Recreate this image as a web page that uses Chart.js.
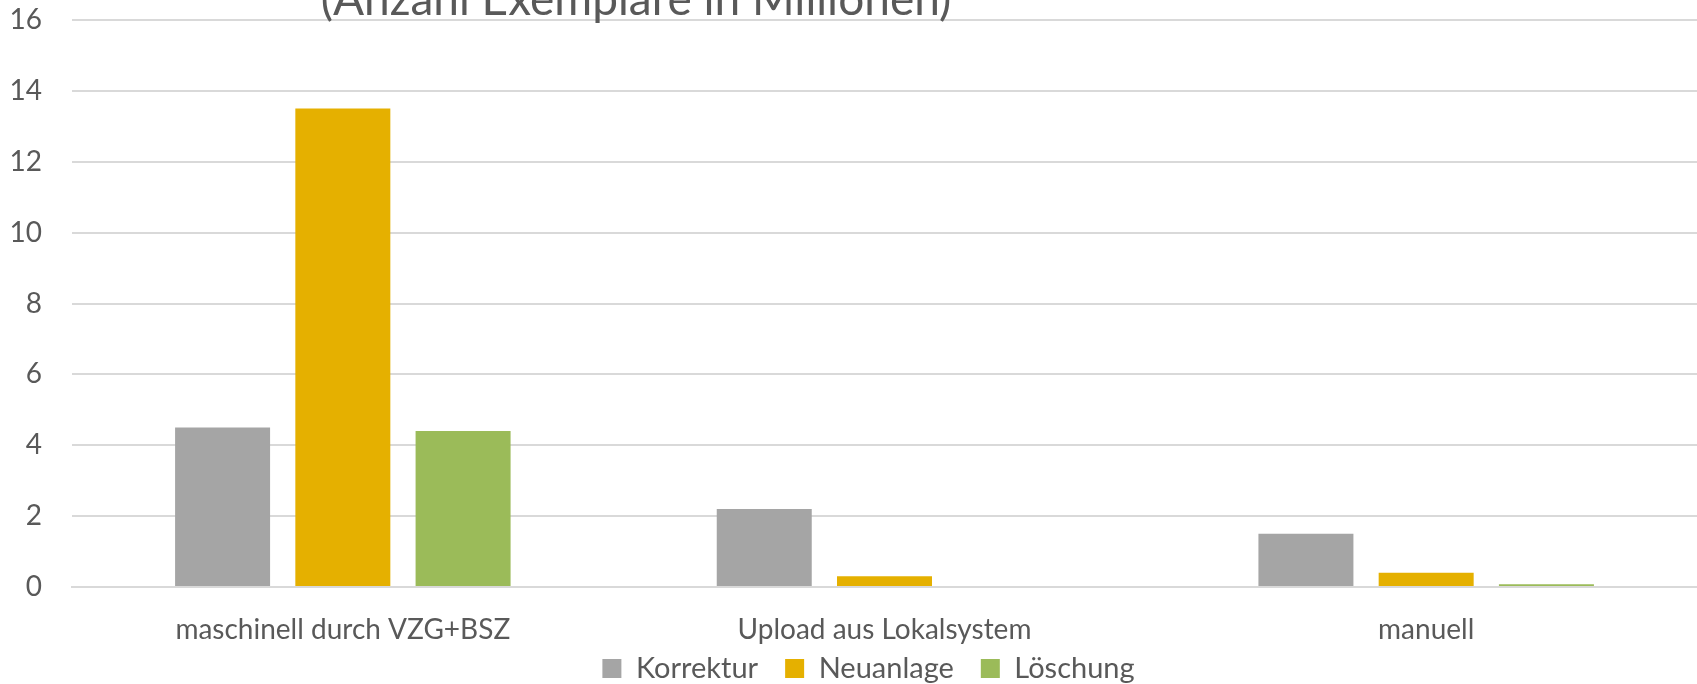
<!DOCTYPE html>
<html lang="de">
<head>
<meta charset="utf-8">
<script src="https://cdn.jsdelivr.net/npm/chart.js@4"></script>
<style>
  html, body { margin: 0; padding: 0; background: #fff; overflow: hidden; }
  #wrap { position: relative; width: 1697px; height: 684px; overflow: hidden; }
  #titel {
    position: absolute; left: 0; top: -30px; width: 1272px;
    text-align: center; font-family: Lato, sans-serif; font-size: 46px;
    line-height: 1.2; color: #595959; white-space: nowrap;
  }
</style>
</head>
<body>
<div id="wrap">
  <canvas id="chart" width="1697" height="684"></canvas>
  <div id="titel">(Anzahl Exemplare in Millionen)</div>
</div>
<script>
const kategorien = ["maschinell durch VZG+BSZ", "Upload aus Lokalsystem", "manuell"];
const korrektur = [4.5, 2.2, 1.5];
const neuanlage = [13.5, 0.3, 0.4];
const loeschung = [4.4, 0, 0.08];
const yTicks = [0, 2, 4, 6, 8, 10, 12, 14, 16];

const textFarbe = "#595959";
const gitter = "#d9d9d9";

// x-Beschriftung nicht am Achsenrand abschneiden, Legende etwas nach rechts
const layoutFix = {
  id: "layoutFix",
  afterLayout(chart) {
    chart.scales.x.bottom += 40;
    chart.legend.left += 20;
    chart.legend.right += 20;
  }
};

new Chart(document.getElementById("chart"), {
  type: "bar",
  data: {
    labels: kategorien,
    datasets: [
      { label: "Korrektur", data: korrektur, backgroundColor: "#a5a5a5" },
      { label: "Neuanlage", data: neuanlage, backgroundColor: "#e5b000" },
      { label: "Löschung", data: loeschung, backgroundColor: "#9bbb59" }
    ]
  },
  plugins: [layoutFix],
  options: {
    responsive: false,
    animation: false,
    categoryPercentage: 0.666,
    barPercentage: 0.79,
    layout: { padding: { top: 20, right: 0, left: 0, bottom: -9 } },
    plugins: {
      title: { display: false },
      tooltip: { enabled: false },
      legend: {
        position: "bottom",
        labels: {
          color: textFarbe,
          font: { family: "Lato", size: 29 },
          boxWidth: 19,
          boxHeight: 19,
          padding: 27
        }
      }
    },
    scales: {
      x: {
        grid: { display: false },
        border: { color: gitter, width: 2 },
        ticks: { color: textFarbe, font: { family: "Lato", size: 28 }, padding: 18 },
        afterFit: (s) => { s.height = 40; s.paddingLeft = 0; s.paddingRight = 0; }
      },
      y: {
        min: 0,
        max: 16,
        afterBuildTicks: (s) => { s.ticks = yTicks.map(v => ({ value: v })); },
        grid: { color: gitter, lineWidth: 2, drawTicks: false },
        border: { display: false },
        ticks: { color: textFarbe, font: { family: "Lato", size: 28 }, padding: 30 },
        afterFit: (s) => { s.width = 72; s.paddingTop = 0; s.paddingBottom = 0; }
      }
    }
  }
});
</script>
</body>
</html>
